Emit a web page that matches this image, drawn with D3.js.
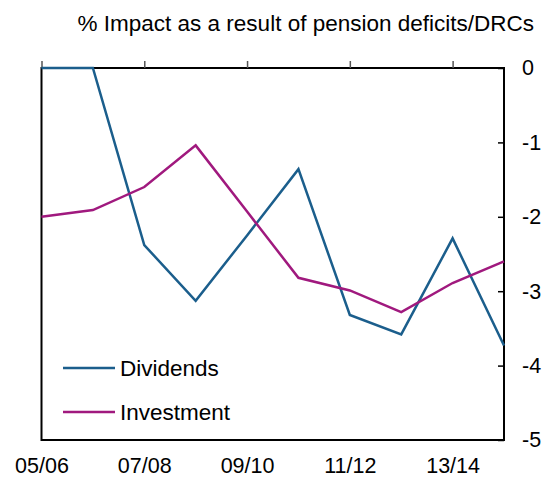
<!DOCTYPE html>
<html>
<head>
<meta charset="utf-8">
<script src="https://cdn.jsdelivr.net/npm/d3@7"></script>
<style>
  body { margin: 0; background: #fff; }
  text { font-family: "Liberation Sans", Arial, sans-serif; fill: #000; }
</style>
</head>
<body>
<div id="chart"></div>
<script>
// financial years, one point per year
const years = ["05/06", "06/07", "07/08", "08/09", "09/10", "10/11", "11/12", "12/13", "13/14", "14/15"];
const tickYears = ["05/06", "07/08", "09/10", "11/12", "13/14"];
const dividends = [0, 0, -2.38, -3.13, -2.25, -1.36, -3.32, -3.58, -2.29, -3.73];
const investment = [-2.0, -1.91, -1.6, -1.04, -1.93, -2.82, -2.99, -3.28, -2.89, -2.6];
const yTicks = [0, -1, -2, -3, -4, -5];

const width = 548, height = 479;
const plotL = 41.5, plotR = 504, plotT = 68, plotB = 440;
const tickFont = "21.5px", textFont = "22.5px";

const svg = d3.select("#chart").append("svg")
  .attr("width", width)
  .attr("height", height);

const x = d3.scalePoint().domain(years).range([plotL, plotR]);
const y = d3.scaleLinear().domain([-5, 0]).range([plotB, plotT]);

// frame
svg.append("rect")
  .attr("x", plotL).attr("y", plotT)
  .attr("width", plotR - plotL).attr("height", plotB - plotT)
  .attr("fill", "none").attr("stroke", "#000").attr("stroke-width", 2);

// top ticks (outside, pointing up)
svg.append("g")
  .attr("transform", `translate(0,${plotT})`)
  .call(d3.axisTop(x).tickValues(tickYears).tickSize(7).tickFormat(""))
  .call(g => g.select(".domain").remove())
  .call(g => g.selectAll("line").attr("stroke", "#555").attr("stroke-width", 1.5));

// right axis, ticks inward
const yAxis = svg.append("g")
  .attr("transform", `translate(${plotR},0)`)
  .call(d3.axisRight(y).tickValues(yTicks).tickSize(-6).tickPadding(18).tickFormat(d => String(d)));
yAxis.select(".domain").remove();
yAxis.selectAll("line").attr("stroke", "#000").attr("stroke-width", 1.5);
yAxis.selectAll("text")
  .style("font-size", tickFont)
  .style("font-family", "Liberation Sans, Arial, sans-serif")
  .attr("fill", "#000");

// bottom labels
svg.append("g")
  .attr("transform", `translate(0,${plotB})`)
  .call(d3.axisBottom(x).tickValues(tickYears).tickSize(0).tickPadding(18))
  .call(g => g.select(".domain").remove())
  .selectAll("text")
  .style("font-size", tickFont)
  .style("font-family", "Liberation Sans, Arial, sans-serif")
  .attr("fill", "#000");

// title
svg.append("text")
  .attr("x", 534).attr("y", 31)
  .attr("text-anchor", "end")
  .style("font-size", textFont)
  .text("% Impact as a result of pension deficits/DRCs");

const line = d3.line()
  .x((d, i) => x(years[i]))
  .y(d => y(d));

const series = [
  { name: "Dividends", values: dividends, color: "#1b5e8c" },
  { name: "Investment", values: investment, color: "#a0197e" }
];

svg.selectAll(".series")
  .data(series)
  .enter().append("path")
  .attr("class", "series")
  .attr("d", d => line(d.values))
  .attr("fill", "none")
  .attr("stroke", d => d.color)
  .attr("stroke-width", 2.5)
  .attr("stroke-linejoin", "miter");

// legend
const legend = svg.selectAll(".legend")
  .data(series)
  .enter().append("g")
  .attr("class", "legend")
  .attr("transform", (d, i) => `translate(63,${368 + i * 44})`);
legend.append("line")
  .attr("x1", 0).attr("x2", 52)
  .attr("stroke", d => d.color).attr("stroke-width", 2.5);
legend.append("text")
  .attr("x", 57).attr("dy", "0.35em")
  .style("font-size", textFont)
  .text(d => d.name);
</script>
</body>
</html>
